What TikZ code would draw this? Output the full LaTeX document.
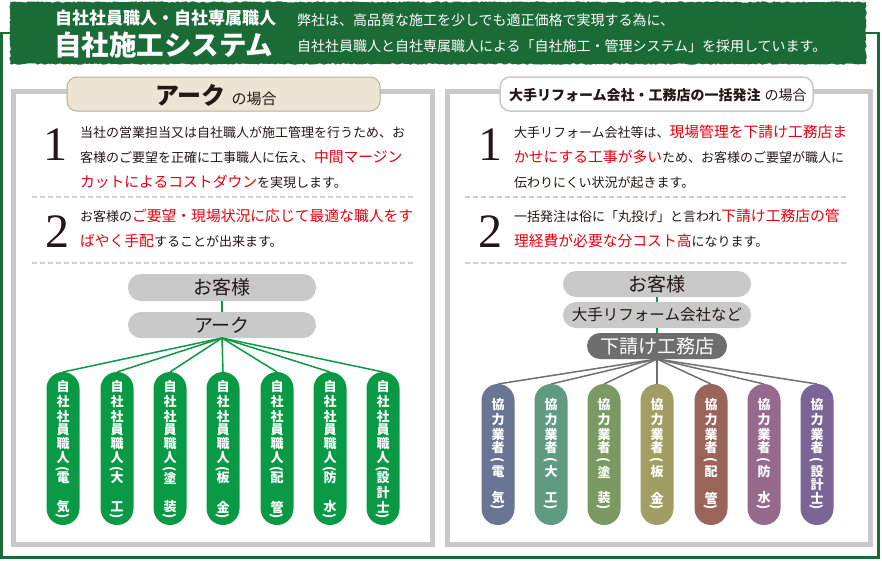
\documentclass[tikz,border=0pt]{standalone}
\usepackage{graphicx}
\usepackage{fontspec}
\setmainfont{Noto Sans CJK JP}
\newfontfamily\numfont{Liberation Serif}
\usetikzlibrary{decorations.pathmorphing}
\definecolor{bgreen}{HTML}{1B6B37}
\definecolor{pgray}{HTML}{C9C9C9}
\definecolor{dashgray}{HTML}{D2D2D2}
\definecolor{tabbeige}{HTML}{EDE4D3}
\definecolor{tabborder}{HTML}{B8AF9E}
\definecolor{tdark}{HTML}{231815}
\definecolor{tred}{HTML}{E60012}
\definecolor{pgreen}{HTML}{0A9A46}
\definecolor{boxgray}{HTML}{C9C9C9}
\definecolor{darkbox}{HTML}{6E6E6E}
\definecolor{linegray}{HTML}{707070}
\definecolor{rpa}{HTML}{6A7594}
\definecolor{rpb}{HTML}{5F9B80}
\definecolor{rpc}{HTML}{7B9A63}
\definecolor{rpd}{HTML}{A29D63}
\definecolor{rpe}{HTML}{9B6459}
\definecolor{rpf}{HTML}{97698D}
\definecolor{rpg}{HTML}{7B6597}
\newcommand\redt[1]{{\color{tred}\fontsize{14.8}{14.8}\selectfont #1}}
\newcommand\lpar{\rotatebox{-90}{(}}
\newcommand\rpar{\rotatebox{-90}{)}}
\newcommand\pillchars[2]{%
  \foreach \o/\c [count=\k] in {#2} {\node[vch] (#1-\k) at ([yshift=-\o pt]#1.north) {\c};}}
\tikzset{
  txt/.style={anchor=base west, text=tdark, text height=12pt, text depth=3pt, font=\fontsize{13}{13}\selectfont},
  bignum/.style={anchor=base, text=tdark, font=\numfont\fontsize{48}{48}\selectfont},
  sep/.style={dashgray, line width=1.5, dash pattern=on 5pt off 3pt},
  graybox/.style={fill=boxgray, rounded corners=13, minimum height=26, minimum width=188, text=tdark},
  lpill/.style={fill=pgreen, rounded corners=16.5, minimum width=33, minimum height=153},
  rpill/.style={rounded corners=16.5, minimum width=33, minimum height=141},
  vch/.style={text=white, font=\bfseries\fontsize{13}{13}\selectfont},
  glink/.style={pgreen, line width=2},
}
\begin{document}
\begin{tikzpicture}[x=1pt,y=-1pt, every node/.style={inner sep=0pt, outer sep=0pt}]
\useasboundingbox (0,0) rectangle (882,560);
\fill[white] (0,0) rectangle (882,560);
% outer frame
\draw[bgreen, line width=2.5] (1.5,33) rectangle (878.5,557.5);
% banner
\fill[bgreen, decorate, decoration={random steps, segment length=2pt, amplitude=0.7pt}] (10,2) rectangle (866,64);
\node[anchor=base west, text=white, font=\bfseries\fontsize{17}{17}\selectfont] (h1) at (55,24) {自社社員職人・自社専属職人};
\node[anchor=base west, text=white, font=\bfseries\fontsize{27.5}{27.5}\selectfont] (h2) at (54,55) {自社施工システム};
\node[anchor=base west, text=white, font=\fontsize{14}{14}\selectfont] (h3) at (297,25) {弊社は、高品質な施工を少しでも適正価格で実現する為に、};
\node[anchor=base west, text=white, font=\fontsize{14}{14}\selectfont] (h4) at (297,51) {自社社員職人と自社専属職人による「自社施工・管理システム」を採用しています。};
% panels
\draw[pgray, line width=5] (13.5,91.5) rectangle (432.5,544);
\draw[pgray, line width=5] (447.5,91.5) rectangle (870.5,544);
% tabs
\node[draw=tabborder, fill=tabbeige, rounded corners=10, minimum width=313, minimum height=34, line width=1] (ltab) at (223.5,94) {};
\node[anchor=base west, text=tdark] (ltabt) at (155,104) {{\bfseries\fontsize{24}{24}\selectfont アーク}\hspace{6pt}{\fontsize{15}{15}\selectfont の場合}};
\node[draw=pgray, fill=white, rounded corners=10, minimum width=313, minimum height=34, line width=1.5] (rtab) at (656.5,94) {};
\node[anchor=base west, text=tdark] (rtabt) at (509,100.5) {{\bfseries\fontsize{14}{14}\selectfont 大手リフォーム会社・工務店の一括発注}\hspace{4pt}{\fontsize{14}{14}\selectfont の場合}};
% left items
\node[bignum] (ln1) at (55,160) {1};
\node[txt] (lt1) at (80,137) {当社の営業担当又は自社職人が施工管理を行うため、お};
\node[txt] (lt2) at (80,162) {客様のご要望を正確に工事職人に伝え、\redt{中間マージン}};
\node[txt] (lt3) at (80,187) {\redt{カットによるコストダウン}を実現します。};
\draw[sep] (32,197) -- (413,197);
\node[bignum] (ln2) at (57,247) {2};
\node[txt] (lt4) at (80,221) {お客様の\redt{ご要望・現場状況に応じて最適な職人をす}};
\node[txt] (lt5) at (80,246) {\redt{ばやく手配}することが出来ます。};
\draw[sep] (32,263) -- (413,263);
% right items
\node[bignum] (rn1) at (490,160) {1};
\node[txt] (rt1) at (514,137) {大手リフォーム会社等は、\redt{現場管理を下請け工務店ま}};
\node[txt] (rt2) at (514,162) {\redt{かせにする工事が多い}ため、お客様のご要望が職人に};
\node[txt] (rt3) at (514,187) {伝わりにくい状況が起きます。};
\draw[sep] (465,197) -- (847,197);
\node[bignum] (rn2) at (490,247) {2};
\node[txt] (rt4) at (514,221) {一括発注は俗に「丸投げ」と言われ\redt{下請け工務店の管}};
\node[txt] (rt5) at (514,246) {\redt{理経費が必要な分コスト高}になります。};
\draw[sep] (465,263) -- (847,263);
% left tree
\node[graybox, minimum height=27, font=\fontsize{19}{19}\selectfont] (lcust) at (222,287.5) {お客様};
\node[graybox, font=\fontsize{19}{19}\selectfont] (lark) at (222,325) {アーク};
\draw[glink] (lcust.south) -- (lark.north);
\foreach \i/\x in {1/63,2/117,3/170,4/223,5/277,6/330,7/383} {
  \draw[pgreen, line width=1.5] (lark.south) -- (\x,372);
  \node[lpill] (pL\i) at (\x,448.5) {};
}
\pillchars{pL1}{15/自,29.7/社,44.3/社,58/員,72/職,86/人,97/\lpar,106/電,135/気,144/\rpar}
\pillchars{pL2}{15/自,29.7/社,44.3/社,58/員,72/職,86/人,97/\lpar,106/大,135/工,144/\rpar}
\pillchars{pL3}{15/自,29.7/社,44.3/社,58/員,72/職,86/人,97/\lpar,106/塗,135/装,144/\rpar}
\pillchars{pL4}{15/自,29.7/社,44.3/社,58/員,72/職,86/人,97/\lpar,106/板,135/金,144/\rpar}
\pillchars{pL5}{15/自,29.7/社,44.3/社,58/員,72/職,86/人,97/\lpar,106/配,135/管,144/\rpar}
\pillchars{pL6}{15/自,29.7/社,44.3/社,58/員,72/職,86/人,97/\lpar,106/防,135/水,144/\rpar}
\pillchars{pL7}{15/自,29.7/社,44.3/社,58/員,72/職,86/人,97/\lpar,106/設,121/計,135/士,144/\rpar}
% right tree
\node[graybox, font=\fontsize{19}{19}\selectfont] (rcust) at (657,284) {お客様};
\node[graybox, font=\fontsize{15.5}{15.5}\selectfont] (rbig) at (657,315) {大手リフォーム会社など};
\node[fill=darkbox, rounded corners=13, minimum height=26, minimum width=140, text=white, font=\fontsize{19}{19}\selectfont] (rsub) at (657,346) {下請け工務店};
\draw[glink] (rcust.south) -- (rbig.north);
\draw[glink] (rbig.south) -- (rsub.north);
\foreach \i/\x/\c in {1/498/rpa,2/551/rpb,3/604/rpc,4/657/rpd,5/711/rpe,6/764/rpf,7/817/rpg} {
  \draw[linegray, line width=1.5] (rsub.south) -- (\x,384);
  \node[rpill, fill=\c] (pR\i) at (\x,454.5) {};
}
\pillchars{pR1}{21/協,36/力,51/業,64/者,76/\lpar,88/電,114/気,123/\rpar}
\pillchars{pR2}{21/協,36/力,51/業,64/者,76/\lpar,88/大,114/工,123/\rpar}
\pillchars{pR3}{21/協,36/力,51/業,64/者,76/\lpar,88/塗,114/装,123/\rpar}
\pillchars{pR4}{21/協,36/力,51/業,64/者,76/\lpar,88/板,114/金,123/\rpar}
\pillchars{pR5}{21/協,36/力,51/業,64/者,76/\lpar,88/配,114/管,123/\rpar}
\pillchars{pR6}{21/協,36/力,51/業,64/者,76/\lpar,88/防,114/水,123/\rpar}
\pillchars{pR7}{21/協,36/力,51/業,64/者,76/\lpar,88/設,101/計,114/士,123/\rpar}
\end{tikzpicture}
\end{document}
